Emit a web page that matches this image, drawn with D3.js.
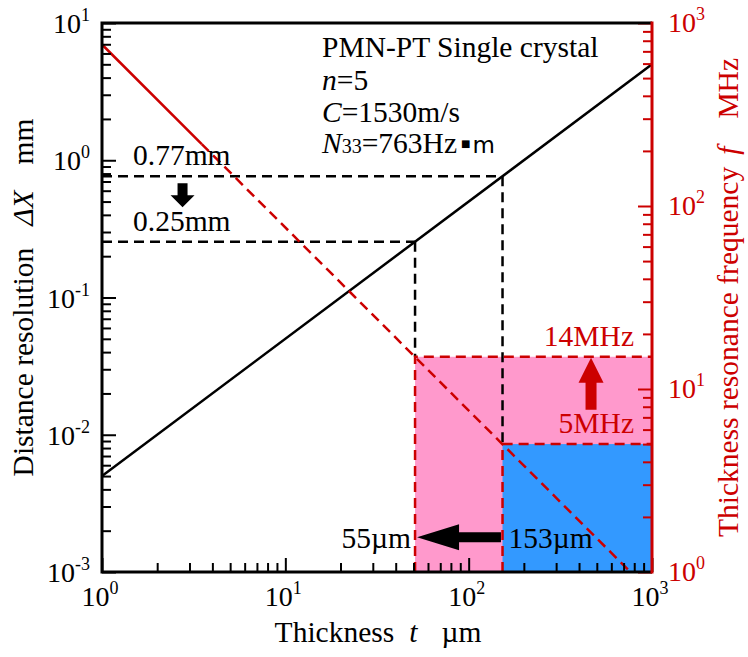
<!DOCTYPE html>
<html>
<head>
<meta charset="utf-8">
<script src="https://cdnjs.cloudflare.com/ajax/libs/d3/7.8.5/d3.min.js"></script>
<style>
  body { margin: 0; background: #fff; }
  svg { display: block; font-family: "Liberation Serif", "Times New Roman", serif; }
</style>
</head>
<body>
<div id="chart"></div>
<script>
// values
var resThickness = [1, 1000];          // um
var resValues = [0.005, 5];            // mm
var freqSolidThickness = [1, 3.5];     // um, solid part of the red line
var freqSolidValues = [763, 218];      // MHz
var freqDashThickness = [3.5, 763];    // um, dashed part
var freqDashValues = [218, 1];         // MHz

// marked cases: 14MHz -> 55um and 5MHz -> 153um
var markThickness = [51, 153];
var markResolution = [0.255, 0.765];
var markFreq = [15, 5];
var markResLabels = ["0.25mm", "0.77mm"];
var markFreqLabels = ["14MHz", "5MHz"];
var markThickLabels = ["55\u00b5m", "153\u00b5m"];

// tick labels (powers of ten)
var xExponents = [0, 1, 2, 3];
var yLeftExponents = [-3, -2, -1, 0, 1];
var yRightExponents = [0, 1, 2, 3];

var red = "#cc0000";
var pink = "#ff99cc";
var blue = "#3399ff";

//set the svg size
var svgWidth = 748;
var svgHeight = 657;

var margin = {
  top: 23,
  right: 96,
  bottom: 85,
  left: 102
};

var width = svgWidth - margin.left - margin.right;
var height = svgHeight - margin.top - margin.bottom;

var svg = d3
  .select("#chart")
  .append("svg")
  .attr("width", svgWidth)
  .attr("height", svgHeight);

var chartGroup = svg
  .append("g")
  .attr("transform", `translate(${margin.left}, ${margin.top})`);

// scales
var xScale = d3.scaleLog().domain([1, 1000]).range([0, width]);
var yLeft = d3.scaleLog().domain([1e-3, 10]).range([height, 0]);
var yRight = d3.scaleLog().domain([1, 1000]).range([height, 0]);

// shaded regions (frequency range boxes)
chartGroup.append("rect")
  .attr("x", xScale(markThickness[0]))
  .attr("y", yRight(markFreq[0]))
  .attr("width", xScale(1000) - xScale(markThickness[0]))
  .attr("height", yRight(1) - yRight(markFreq[0]))
  .attr("fill", pink);

chartGroup.append("rect")
  .attr("x", xScale(markThickness[1]))
  .attr("y", yRight(markFreq[1]))
  .attr("width", xScale(1000) - xScale(markThickness[1]))
  .attr("height", yRight(1) - yRight(markFreq[1]))
  .attr("fill", blue);

// black dashed guides: from left axis to the line, then down
markThickness.forEach(function(t, i) {
  chartGroup.append("line")
    .attr("x1", 0)
    .attr("x2", xScale(t))
    .attr("y1", yLeft(markResolution[i]))
    .attr("y2", yLeft(markResolution[i]))
    .attr("stroke", "black")
    .attr("stroke-width", 2.5)
    .attr("stroke-dasharray", "10,6");

  chartGroup.append("line")
    .attr("x1", xScale(t))
    .attr("x2", xScale(t))
    .attr("y1", yLeft(markResolution[i]))
    .attr("y2", yRight(markFreq[i]))
    .attr("stroke", "black")
    .attr("stroke-width", 2.5)
    .attr("stroke-dasharray", "10,6");
});

// red dashed outlines of the boxes
markThickness.forEach(function(t, i) {
  chartGroup.append("path")
    .attr("d", `M${xScale(t)},${yRight(1)}V${yRight(markFreq[i])}H${xScale(1000)}`)
    .attr("fill", "none")
    .attr("stroke", red)
    .attr("stroke-width", 2.5)
    .attr("stroke-dasharray", "10,6");
});

// resolution line
var resLine = d3.line()
  .x(d => xScale(d[0]))
  .y(d => yLeft(d[1]));

chartGroup.append("path")
  .datum(d3.zip(resThickness, resValues))
  .attr("d", resLine)
  .attr("fill", "none")
  .attr("stroke", "black")
  .attr("stroke-width", 2.5);

// frequency line (solid start, dashed rest)
var freqLine = d3.line()
  .x(d => xScale(d[0]))
  .y(d => yRight(d[1]));

chartGroup.append("path")
  .datum(d3.zip(freqSolidThickness, freqSolidValues))
  .attr("d", freqLine)
  .attr("fill", "none")
  .attr("stroke", red)
  .attr("stroke-width", 2.5);

chartGroup.append("path")
  .datum(d3.zip(freqDashThickness, freqDashValues))
  .attr("d", freqLine)
  .attr("fill", "none")
  .attr("stroke", red)
  .attr("stroke-width", 2.5)
  .attr("stroke-dasharray", "10,6");

// block arrows: [tail, tip] in pixels
function arrowPath(p0, p1, shaft, headW, headL) {
  var dx = p1[0] - p0[0], dy = p1[1] - p0[1];
  var len = Math.sqrt(dx * dx + dy * dy);
  var ux = dx / len, uy = dy / len;
  var nx = -uy, ny = ux;
  var bx = p1[0] - ux * headL, by = p1[1] - uy * headL;
  var pts = [
    [p0[0] + nx * shaft / 2, p0[1] + ny * shaft / 2],
    [bx + nx * shaft / 2, by + ny * shaft / 2],
    [bx + nx * headW / 2, by + ny * headW / 2],
    [p1[0], p1[1]],
    [bx - nx * headW / 2, by - ny * headW / 2],
    [bx - nx * shaft / 2, by - ny * shaft / 2],
    [p0[0] - nx * shaft / 2, p0[1] - ny * shaft / 2]
  ];
  return "M" + pts.map(p => p.join(",")).join("L") + "Z";
}

// down arrow 0.77mm -> 0.25mm
chartGroup.append("path")
  .attr("d", arrowPath([xScale(2.75), yLeft(0.68)], [xScale(2.75), yLeft(0.455)], 10, 24, 12))
  .attr("fill", "black");

// up arrow 5MHz -> 14MHz
chartGroup.append("path")
  .attr("d", arrowPath([xScale(465), yRight(7.7)], [xScale(465), yRight(14.8)], 11, 25, 25))
  .attr("fill", red);

// left arrow 153um -> 55um
chartGroup.append("path")
  .attr("d", arrowPath([xScale(150), yRight(1.55)], [xScale(52.3), yRight(1.55)], 10, 26, 42))
  .attr("fill", "black");

// axes: inward ticks, majors longer than minors
function isMajor(v) {
  return Math.abs(Math.log10(v) - Math.round(Math.log10(v))) < 1e-9;
}

var xMinor = xScale.ticks().filter(v => !isMajor(v));
var xMajor = xScale.ticks().filter(isMajor);
var yLMinor = yLeft.ticks().filter(v => !isMajor(v));
var yLMajor = yLeft.ticks().filter(isMajor);
var yRMinor = yRight.ticks().filter(v => !isMajor(v));
var yRMajor = yRight.ticks().filter(isMajor);

function drawAxis(axis, transform, color) {
  var g = chartGroup.append("g")
    .attr("transform", transform)
    .call(axis);
  g.select(".domain").remove();
  g.selectAll("line").attr("stroke", color).attr("stroke-width", 2);
}

drawAxis(d3.axisBottom(xScale).tickValues(xMinor).tickSize(-9).tickFormat(""), `translate(0, ${height})`, "black");
drawAxis(d3.axisBottom(xScale).tickValues(xMajor).tickSize(-14).tickFormat(""), `translate(0, ${height})`, "black");
drawAxis(d3.axisLeft(yLeft).tickValues(yLMinor).tickSize(-9).tickFormat(""), "translate(0,0)", "black");
drawAxis(d3.axisLeft(yLeft).tickValues(yLMajor).tickSize(-14).tickFormat(""), "translate(0,0)", "black");
drawAxis(d3.axisRight(yRight).tickValues(yRMinor).tickSize(-9).tickFormat(""), `translate(${width}, 0)`, red);
drawAxis(d3.axisRight(yRight).tickValues(yRMajor).tickSize(-14).tickFormat(""), `translate(${width}, 0)`, red);

// frame
chartGroup.append("path")
  .attr("d", `M${width},0H0V${height}H${width}`)
  .attr("fill", "none")
  .attr("stroke", "black")
  .attr("stroke-width", 3);

chartGroup.append("line")
  .attr("x1", width).attr("x2", width)
  .attr("y1", -1.5).attr("y2", height + 1.5)
  .attr("stroke", red)
  .attr("stroke-width", 3);

// power-of-ten tick labels
function powLabel(x, y, exp, anchor, color) {
  var t = chartGroup.append("text")
    .attr("x", x)
    .attr("y", y)
    .attr("text-anchor", anchor)
    .attr("fill", color)
    .attr("font-size", "28px");
  t.append("tspan").text("10");
  t.append("tspan")
    .attr("dy", -12)
    .attr("font-size", "18px")
    .text(exp);
}

xExponents.forEach(e => powLabel(xScale(Math.pow(10, e)) - 2, height + 34, e, "middle", "black"));
yLeftExponents.forEach(e => powLabel(-12, yLeft(Math.pow(10, e)) + 10, e, "end", "black"));
yRightExponents.forEach(e => powLabel(width + 16, yRight(Math.pow(10, e)) + 9, e, "start", red));

// axis titles
var xTitle = chartGroup.append("text")
  .attr("x", 276)
  .attr("y", height + 70)
  .attr("text-anchor", "middle")
  .attr("font-size", "29.5px");
xTitle.append("tspan").text("Thickness");
xTitle.append("tspan").attr("dx", 15).attr("font-style", "italic").text("t");
xTitle.append("tspan").attr("dx", 24).text("\u00b5m");

var yTitle = chartGroup.append("text")
  .attr("transform", `translate(-69, ${height / 2}) rotate(-90)`)
  .attr("text-anchor", "middle")
  .attr("font-size", "29.5px");
yTitle.append("tspan").text("Distance resolution");
yTitle.append("tspan").attr("dx", 22).attr("font-style", "italic").text("\u0394X");
yTitle.append("tspan").attr("dx", 26).text("mm");

var y2Title = chartGroup.append("text")
  .attr("transform", `translate(${width + 86}, ${height / 2}) rotate(-90)`)
  .attr("text-anchor", "middle")
  .attr("fill", red)
  .attr("font-size", "29.5px");
y2Title.append("tspan").text("Thickness resonance frequency");
y2Title.append("tspan").attr("dx", 12).attr("font-style", "italic").text("f");
y2Title.append("tspan").attr("dx", 28).text("MHz");

// material notes
var notes = chartGroup.append("g")
  .attr("font-size", "29.5px");

notes.append("text").attr("x", 220).attr("y", 34).text("PMN-PT Single crystal");

var n1 = notes.append("text").attr("x", 220).attr("y", 67);
n1.append("tspan").attr("font-style", "italic").text("n");
n1.append("tspan").text("=5");

var n2 = notes.append("text").attr("x", 220).attr("y", 99);
n2.append("tspan").attr("font-style", "italic").text("C");
n2.append("tspan").text("=1530m/s");

var n3 = notes.append("text").attr("x", 220).attr("y", 130);
n3.append("tspan").attr("font-style", "italic").text("N");
n3.append("tspan").attr("font-size", "20px").text("33");
n3.append("tspan").text("=763Hz");
n3.append("tspan").attr("font-family", "DejaVu Sans").attr("font-size", "10px").attr("dx", 4).attr("dy", -6).text("\u25a0");
n3.append("tspan").attr("font-family", "DejaVu Sans").attr("font-size", "23px").attr("dx", 2).attr("dy", 6).text("m");

// value labels
markResLabels.forEach(function(s, i) {
  chartGroup.append("text")
    .attr("x", 31)
    .attr("y", yLeft(markResolution[i]) - 11)
    .attr("font-size", "29.5px")
    .text(s);
});

markFreqLabels.forEach(function(s, i) {
  chartGroup.append("text")
    .attr("x", width - 18)
    .attr("y", yRight(markFreq[i]) - 11)
    .attr("text-anchor", "end")
    .attr("fill", red)
    .attr("font-size", "29.5px")
    .text(s);
});

chartGroup.append("text")
  .attr("x", xScale(markThickness[0]) - 4)
  .attr("y", yRight(1.55) + 11)
  .attr("text-anchor", "end")
  .attr("font-size", "29.5px")
  .text(markThickLabels[0]);

chartGroup.append("text")
  .attr("x", xScale(markThickness[1]) + 6)
  .attr("y", yRight(1.55) + 11)
  .attr("font-size", "29.5px")
  .text(markThickLabels[1]);
</script>
</body>
</html>
